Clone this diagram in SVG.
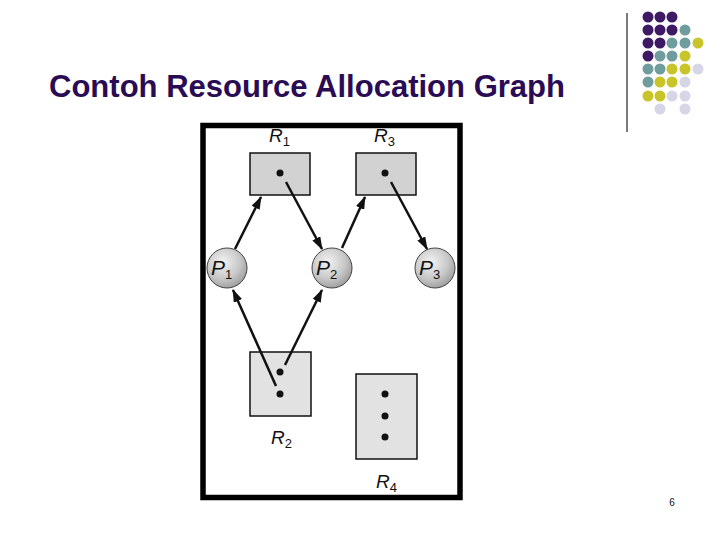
<svg xmlns="http://www.w3.org/2000/svg" width="720" height="540" viewBox="0 0 720 540">
<style>
.title{font-family:"Liberation Sans",Arial,sans-serif;font-weight:bold;font-size:31px;fill:#2a0c55}
.lbl{font-family:"Liberation Sans",Arial,sans-serif;font-style:italic;font-size:19px;fill:#111}
.plbl{font-family:"Liberation Sans",Arial,sans-serif;font-style:italic;font-size:21px;fill:#111}
.sub{font-size:13px;font-style:normal}
.res{fill:#d2d2d2;stroke:#111;stroke-width:1.5}
.res2{fill:#e2e2e2;stroke:#111;stroke-width:1.5}
.dot{fill:#111}
.edge{stroke:#111;stroke-width:2.5;fill:none;marker-end:url(#ah)}
.proc{fill:url(#sph);stroke:#444;stroke-width:1}
.p{fill:#3d1a63}.t{fill:#6f9c9c}.y{fill:#c8c42a}.l{fill:#d6d6e6}
</style>
<defs>
<marker id="ah" viewBox="0 0 13 9" refX="12" refY="4.5" markerWidth="13" markerHeight="9" markerUnits="userSpaceOnUse" orient="auto">
<path d="M0,0 L13,4.5 L0,9 Z" fill="#111"/>
</marker>
<radialGradient id="sph" cx="0.4" cy="0.35" r="0.7">
<stop offset="0" stop-color="#f2f2f2"/>
<stop offset="0.6" stop-color="#c8c8c8"/>
<stop offset="1" stop-color="#9a9a9a"/>
</radialGradient>
</defs>
<rect width="720" height="540" fill="#fff"/>
<text class="title" x="49" y="97" textLength="516" lengthAdjust="spacingAndGlyphs">Contoh Resource Allocation Graph</text>
<line x1="627" y1="13" x2="627" y2="132" stroke="#222" stroke-width="1.2"/>
<g id="dots">
<circle class="p" cx="648" cy="17" r="5.5"/><circle class="p" cx="660" cy="17" r="5.5"/><circle class="p" cx="672" cy="17" r="5.5"/>
<circle class="p" cx="648" cy="30" r="5.5"/><circle class="p" cx="660" cy="30" r="5.5"/><circle class="p" cx="672" cy="30" r="5.5"/><circle class="t" cx="685" cy="30" r="5.5"/>
<circle class="p" cx="648" cy="43" r="5.5"/><circle class="p" cx="660" cy="43" r="5.5"/><circle class="t" cx="672" cy="43" r="5.5"/><circle class="t" cx="685" cy="43" r="5.5"/><circle class="y" cx="698" cy="43" r="5.5"/>
<circle class="p" cx="648" cy="56" r="5.5"/><circle class="t" cx="660" cy="56" r="5.5"/><circle class="t" cx="672" cy="56" r="5.5"/><circle class="y" cx="685" cy="56" r="5.5"/>
<circle class="t" cx="648" cy="69" r="5.5"/><circle class="t" cx="660" cy="69" r="5.5"/><circle class="y" cx="672" cy="69" r="5.5"/><circle class="y" cx="685" cy="69" r="5.5"/><circle class="l" cx="698" cy="69" r="5.5"/>
<circle class="t" cx="648" cy="82" r="5.5"/><circle class="y" cx="660" cy="82" r="5.5"/><circle class="y" cx="672" cy="82" r="5.5"/><circle class="l" cx="685" cy="82" r="5.5"/>
<circle class="y" cx="648" cy="96" r="5.5"/><circle class="y" cx="660" cy="96" r="5.5"/><circle class="l" cx="672" cy="96" r="5.5"/><circle class="l" cx="685" cy="96" r="5.5"/>
<circle class="l" cx="660" cy="109" r="5.5"/><circle class="l" cx="685" cy="109" r="5.5"/>
</g>
<rect x="203" y="125.5" width="257" height="372" fill="none" stroke="#000" stroke-width="5.5"/>
<g id="R1">
<rect class="res" x="250" y="153" width="60" height="42"/>
<circle class="dot" cx="280" cy="173" r="3.5"/>
<text class="lbl" x="269" y="142">R<tspan class="sub" dy="4">1</tspan></text>
</g>
<g id="R3">
<rect class="res" x="356" y="153" width="60" height="42"/>
<circle class="dot" cx="385" cy="173" r="3.5"/>
<text class="lbl" x="374" y="142">R<tspan class="sub" dy="4">3</tspan></text>
</g>
<g id="R2">
<rect class="res2" x="250" y="352" width="61" height="64"/>
<circle class="dot" cx="280" cy="372" r="3.5"/>
<circle class="dot" cx="280" cy="394" r="3.5"/>
<text class="lbl" x="271" y="444">R<tspan class="sub" dy="4">2</tspan></text>
</g>
<g id="R4">
<rect class="res2" x="356" y="374" width="61" height="85"/>
<circle class="dot" cx="385" cy="394" r="3.5"/>
<circle class="dot" cx="385" cy="416" r="3.5"/>
<circle class="dot" cx="385" cy="437" r="3.5"/>
<text class="lbl" x="376" y="488">R<tspan class="sub" dy="4">4</tspan></text>
</g>
<g id="P1">
<circle class="proc" cx="227" cy="268" r="20"/>
<text class="plbl" x="211" y="275">P<tspan class="sub" dy="4">1</tspan></text>
</g>
<g id="P2">
<circle class="proc" cx="332" cy="268" r="20"/>
<text class="plbl" x="316" y="275">P<tspan class="sub" dy="4">2</tspan></text>
</g>
<g id="P3">
<circle class="proc" cx="435" cy="268" r="20"/>
<text class="plbl" x="419" y="275">P<tspan class="sub" dy="4">3</tspan></text>
</g>
<g id="edges">
<line class="edge" x1="235" y1="249" x2="261" y2="197"/>
<line class="edge" x1="286" y1="182" x2="322" y2="249"/>
<line class="edge" x1="342" y1="248" x2="365" y2="197"/>
<line class="edge" x1="391" y1="182" x2="427" y2="249"/>
<line class="edge" x1="276" y1="386" x2="233" y2="290"/>
<line class="edge" x1="285" y1="365" x2="322" y2="290"/>
</g>
<text x="672" y="506" font-family="Liberation Sans,Arial,sans-serif" font-size="10" text-anchor="middle" fill="#111">6</text>
</svg>
